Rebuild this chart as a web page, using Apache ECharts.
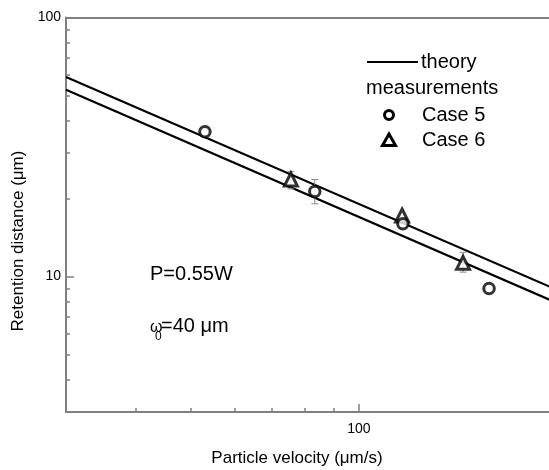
<!DOCTYPE html>
<html><head><meta charset="utf-8">
<script src="https://cdn.jsdelivr.net/npm/echarts@6/dist/echarts.min.js"></script>
<style>html,body{margin:0;padding:0;background:#fff}#c{width:549px;height:470px}</style>
</head><body><div id="c"></div>
<script>
// ---- data ----
const theoryUpper = [[30, 58.9], [220, 9.1]];
const theoryLower = [[30, 52.6], [220, 8.1]];
const case5X = [53.1, 83.4, 119.8, 170.7];
const case5Y = [36.2, 21.3, 16.0, 9.0];
const case5Err = [null, [19.1, 23.7], null, null];
const case6X = [75.6, 119.4, 153.4];
const case6Y = [23.7, 17.2, 11.3];
const case6Err = [[21.8, 25.4], null, [10.4, 12.4]];
const xMinorTicks = [40, 50, 60, 70, 80, 90];
const xMajorTicks = [100];
const yMinorTicks = [4, 5, 6, 7, 8, 9, 20, 30, 40, 50, 60, 70, 80, 90];
const yMajorTicks = [10, 100];
const xLabels = [100];
const yLabels = [10, 100];
const xRange = [30, 218.4];   // visible part of the (cropped) x axis
const yRange = [3, 100];

const FONT = '"Liberation Sans", Arial, Helvetica, sans-serif';
const AX = '#808080';

function near(v, list) { return list.some(t => Math.abs(v - t) / t < 1e-6); }

const case5 = case5X.map((x, i) => [x, case5Y[i]]);
const case6 = case6X.map((x, i) => [x, case6Y[i]]);
const errData = [];
case5Err.forEach((e, i) => { if (e) errData.push([case5X[i], e[0], e[1]]); });
case6Err.forEach((e, i) => { if (e) errData.push([case6X[i], e[0], e[1]]); });

function renderErr(params, api) {
  const x = api.value(0), lo = api.value(1), hi = api.value(2);
  const p1 = api.coord([x, lo]), p2 = api.coord([x, hi]);
  const w = 3.5;
  const st = { stroke: '#8a8a8a', lineWidth: 1 };
  return { type: 'group', children: [
    { type: 'line', shape: { x1: p1[0], y1: p1[1], x2: p2[0], y2: p2[1] }, style: st },
    { type: 'line', shape: { x1: p1[0] - w, y1: p1[1], x2: p1[0] + w, y2: p1[1] }, style: st },
    { type: 'line', shape: { x1: p2[0] - w, y1: p2[1], x2: p2[0] + w, y2: p2[1] }, style: st }
  ]};
}

function xAxisBase(extra) {
  return Object.assign({
    type: 'log', logBase: 10, min: xRange[0], max: xRange[1], position: 'bottom',
    splitLine: { show: false }
  }, extra);
}
function yAxisBase(extra) {
  return Object.assign({
    type: 'log', logBase: 10, min: yRange[0], max: yRange[1], position: 'left',
    splitLine: { show: false }
  }, extra);
}

const chart = echarts.init(document.getElementById('c'), null, { renderer: 'canvas' });
chart.setOption({
  animation: false,
  backgroundColor: '#fff',
  grid: { left: 66, top: 17.5, right: 0, bottom: 58, show: false },
  xAxis: [
    xAxisBase({
      axisLine: { show: true, lineStyle: { color: AX, width: 2 } },
      axisTick: { show: true, inside: true, length: 4, customValues: xMinorTicks, lineStyle: { color: AX, width: 1.5 } },
      axisLabel: { show: true, margin: 10, fontSize: 14, color: '#000', fontFamily: FONT,
        showMinLabel: false, showMaxLabel: false,
        formatter: v => near(v, xLabels) ? String(Math.round(v)) : '' }
    }),
    xAxisBase({
      axisLine: { show: false },
      axisTick: { show: true, inside: true, length: 8, customValues: xMajorTicks, lineStyle: { color: AX, width: 1.5 } },
      axisLabel: { show: false }
    }),
    xAxisBase({
      position: 'top',
      axisLine: { show: true, onZero: false, lineStyle: { color: AX, width: 2 } },
      axisTick: { show: false },
      axisLabel: { show: false }
    })
  ],
  yAxis: [
    yAxisBase({
      axisLine: { show: true, lineStyle: { color: AX, width: 2 } },
      axisTick: { show: true, inside: true, length: 4, customValues: yMinorTicks, lineStyle: { color: AX, width: 1.5 } },
      axisLabel: { show: true, margin: 5, fontSize: 14, color: '#000', fontFamily: FONT,
        showMinLabel: false,
        formatter: v => near(v, yLabels) ? String(Math.round(v)) : '' }
    }),
    yAxisBase({
      axisLine: { show: false },
      axisTick: { show: true, inside: true, length: 8, customValues: yMajorTicks, lineStyle: { color: AX, width: 1.5 } },
      axisLabel: { show: false }
    })
  ],
  series: [
    { name: 'theory', type: 'line', data: theoryUpper, showSymbol: false, symbol: 'none',
      lineStyle: { color: '#000', width: 2.2 }, z: 2, silent: true },
    { name: 'theory2', type: 'line', data: theoryLower, showSymbol: false, symbol: 'none',
      lineStyle: { color: '#000', width: 2.2 }, z: 2, silent: true },
    { name: 'err', type: 'custom', renderItem: renderErr, data: errData,
      encode: { x: 0, y: [1, 2] }, z: 3, silent: true },
    { name: 'Case 6', type: 'scatter', data: case6, symbol: 'triangle', symbolSize: 13,
      itemStyle: { color: '#fff', borderColor: '#000', borderWidth: 3 }, z: 4 },
    { name: 'Case 5', type: 'scatter', data: case5, symbol: 'circle', symbolSize: 10.5,
      itemStyle: { color: '#fff', borderColor: '#000', borderWidth: 3 }, z: 5 }
  ],
  graphic: [
    // axis titles
    { type: 'text', x: 297, y: 458, style: { text: 'Particle velocity (\u03bcm/s)', font: '17px ' + FONT, fill: '#000', align: 'center', verticalAlign: 'middle' } },
    { type: 'text', x: 18, y: 241, rotation: Math.PI / 2, style: { text: 'Retention distance (\u03bcm)', font: '17px ' + FONT, fill: '#000', align: 'center', verticalAlign: 'middle' } },
    // legend
    { type: 'line', shape: { x1: 367, y1: 62, x2: 418, y2: 62 }, style: { stroke: '#000', lineWidth: 2.2 } },
    { type: 'text', x: 421, y: 62, style: { text: 'theory', font: '20px ' + FONT, fill: '#000', align: 'left', verticalAlign: 'middle' } },
    { type: 'text', x: 366, y: 88, style: { text: 'measurements', font: '20px ' + FONT, fill: '#000', align: 'left', verticalAlign: 'middle' } },
    { type: 'circle', shape: { cx: 389, cy: 115, r: 4.5 }, style: { fill: '#fff', stroke: '#000', lineWidth: 3 } },
    { type: 'text', x: 422, y: 115, style: { text: 'Case 5', font: '20px ' + FONT, fill: '#000', align: 'left', verticalAlign: 'middle' } },
    { type: 'polygon', shape: { points: [[389, 134], [382.5, 145.5], [395.5, 145.5]] }, style: { fill: '#fff', stroke: '#000', lineWidth: 3 } },
    { type: 'text', x: 422, y: 140, style: { text: 'Case 6', font: '20px ' + FONT, fill: '#000', align: 'left', verticalAlign: 'middle' } },
    // annotations
    { type: 'text', x: 150, y: 274, style: { text: 'P=0.55W', font: '20px ' + FONT, fill: '#000', align: 'left', verticalAlign: 'middle' } },
    { type: 'text', x: 150, y: 328, style: { text: '\u03c9', font: '16px ' + FONT, fill: '#000', align: 'left', verticalAlign: 'middle' } },
    { type: 'text', x: 155, y: 337, style: { text: '0', font: '12px ' + FONT, fill: '#000', align: 'left', verticalAlign: 'middle' } },
    { type: 'text', x: 161, y: 326, style: { text: '=40 \u03bcm', font: '20px ' + FONT, fill: '#000', align: 'left', verticalAlign: 'middle' } }
  ]
});
</script>
</body></html>
